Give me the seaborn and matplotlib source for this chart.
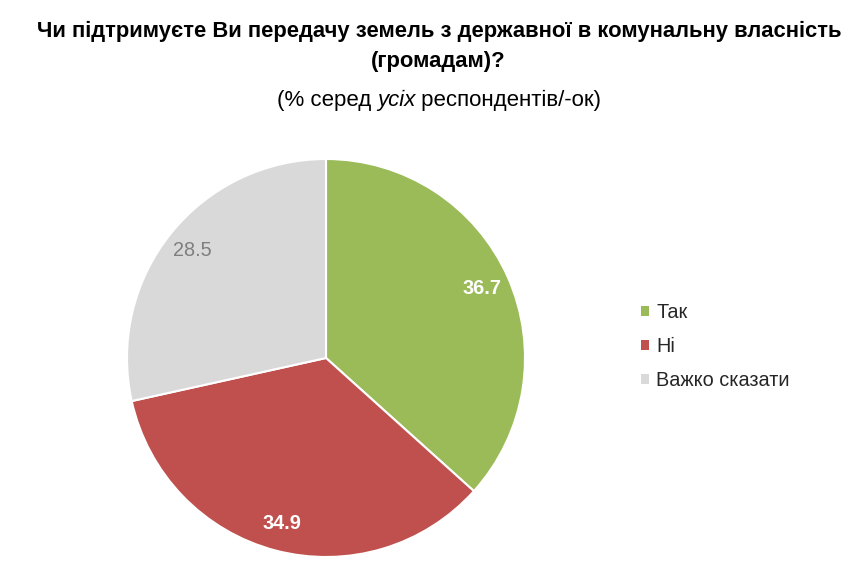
import matplotlib
matplotlib.use("Agg")
import matplotlib.pyplot as plt
import seaborn as sns
import numpy as np

sns.set_theme(style="white")
plt.rcParams['font.family'] = ['Liberation Sans', 'DejaVu Sans']

categories = ["Так", "Ні", "Важко сказати"]
values = [36.7, 34.9, 28.5]
colors = ["#9BBB59", "#C0504D", "#D9D9D9"]
label_colors = ["white", "white", "#7F7F7F"]
label_weights = ["bold", "bold", "normal"]

W, H = 856, 582
fig = plt.figure(figsize=(W / 100, H / 100), dpi=100)

cx, cy, r = 326, 358, 199
ax = fig.add_axes([(cx - r) / W, (H - cy - r) / H, 2 * r / W, 2 * r / H])
wedges, _ = ax.pie(values, colors=colors, startangle=90, counterclock=False,
                   wedgeprops=dict(edgecolor="white", linewidth=1.5))
ax.set_xlim(-1, 1)
ax.set_ylim(-1, 1)
ax.set_aspect("equal")
ax.axis("off")

for w, v, c, fw in zip(wedges, values, label_colors, label_weights):
    ang = np.deg2rad((w.theta1 + w.theta2) / 2)
    d = 0.86
    ax.text(d * np.cos(ang), d * np.sin(ang), f"{v:.1f}", ha="center", va="center",
            color=c, fontsize=14.3, fontweight=fw)

fig.text(439 / W, 1 - 31 / H, "Чи підтримуєте Ви передачу земель з державної в комунальну власність",
         ha="center", va="center", fontsize=15.8, fontweight="bold", color="#000000")
fig.text(438 / W, 1 - 62 / H, "(громадам)?", ha="center", va="center",
         fontsize=15.8, fontweight="bold", color="#000000")

# subtitle with italic part
parts = [("(% серед ", "normal"), ("усіх", "italic"), (" респондентів/-ок)", "normal")]
fig.canvas.draw()
renderer = fig.canvas.get_renderer()
texts = []
widths = []
for s, st in parts:
    t = fig.text(0, 1 - 100 / H, s, ha="left", va="center", fontsize=16, fontstyle=st, color="#000000")
    texts.append(t)
    widths.append(t.get_window_extent(renderer).width)
total = sum(widths)
x = 439 - total / 2
for t, wd in zip(texts, widths):
    t.set_x(x / W)
    x += wd

leg = fig.legend(wedges, categories, loc="upper left", bbox_to_anchor=(641 / W, 1 - 303 / H),
                 frameon=False, fontsize=14.3, handlelength=0.42, handleheight=0.42,
                 handletextpad=0.35, labelspacing=0.75, borderaxespad=0, borderpad=0)
for h in leg.legend_handles:
    h.set_edgecolor("none")

fig.savefig("out.png", dpi=100)
